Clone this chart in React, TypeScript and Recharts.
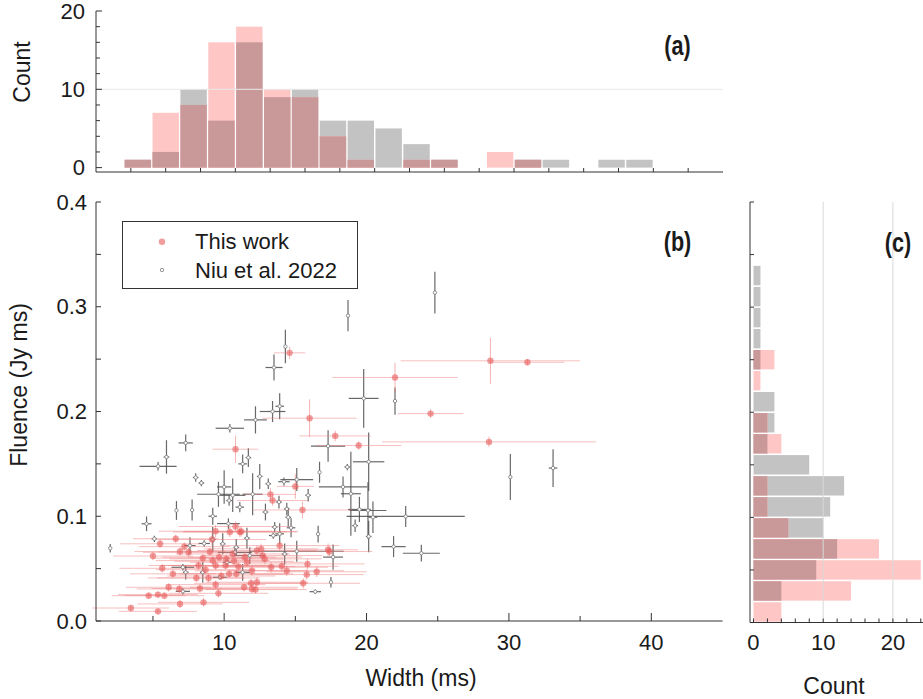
import React from 'react'
import {
  ComposedChart,
  Bar,
  Scatter,
  XAxis,
  YAxis,
  ErrorBar,
  ReferenceLine,
} from 'recharts'

const FONT = '"Liberation Sans", Arial, sans-serif'
const INK = '#1a1a1a'
const FRAME_DARK = '#333333'
const FRAME_LIGHT = '#8a8a8a'
const PINK = '#FFC6C6'
const GREY = '#C3C3C3'
const OVERLAP = '#C99999'
const DOT_RED = '#E85C5C'

// (a) width histogram, 2 ms bins (bin centre)
const widthBins = [3, 5, 7, 9, 11, 13, 15, 17, 19, 21, 23, 25, 27, 29, 31, 33, 35, 37, 39]
const widthThisWork = [1, 7, 8, 16, 18, 10, 9, 4, 1, 0, 1, 1, 0, 2, 1, 0, 0, 0, 0]
const widthNiu = [1, 2, 10, 6, 16, 9, 10, 6, 6, 5, 3, 1, 0, 0, 1, 1, 0, 1, 1]

// (c) fluence histogram, 0.02 Jy ms bins (bin centre)
const fluenceBins = [0.01, 0.03, 0.05, 0.07, 0.09, 0.11, 0.13, 0.15, 0.17, 0.19, 0.21, 0.23, 0.25, 0.27, 0.29, 0.31, 0.33]
const fluenceThisWork = [4, 14, 24, 18, 5, 2, 2, 0, 4, 2, 0, 1, 3, 0, 0, 0, 0]
const fluenceNiu = [0, 4, 9, 12, 10, 11, 13, 8, 2, 3, 3, 0, 1, 1, 1, 1, 1]

// ticks
const aXTicks = [2.5, 5, 7.5, 10, 12.5, 15, 17.5, 20, 22.5, 25, 27.5, 30, 32.5, 35, 37.5, 40, 42.5]
const aYTicks = [0, 2, 4, 6, 8, 10, 12, 14, 16, 18, 20]
const aYLabels = [0, 10, 20]
const bXTicks = [5, 10, 15, 20, 25, 30, 35, 40]
const bXLabels = [10, 20, 30, 40]
const bYTicks = [0, 0.05, 0.1, 0.15, 0.2, 0.25, 0.3, 0.35, 0.4]
const bYLabels = [0, 0.1, 0.2, 0.3, 0.4]
const cXTicks = [0, 2, 4, 6, 8, 10, 12, 14, 16, 18, 20, 22, 24]
const cXLabels = [0, 10, 20]
const cGrid = [10, 20]

// (b) [width ms, fluence Jy ms, width err, fluence err]
const thisWork = [
  [14.6, 0.256, 1.1, 0.006], [22.0, 0.2325, 4.4, 0.014], [24.5, 0.198, 2.3, 0.004],
  [16.0, 0.1936, 3.3, 0.018], [17.8, 0.1767, 2.5, 0.005], [28.7, 0.2484, 6.3, 0.022],
  [31.3, 0.247, 2.6, 0.003], [28.6, 0.171, 7.5, 0.005], [19.45, 0.1675, 3.0, 0.004],
  [10.8, 0.164, 1.6, 0.013], [15.5, 0.106, 3.5, 0.008], [17.3, 0.068, 2.1, 0.006],
  [13.25, 0.1209, 1.8, 0.006], [13.4, 0.115, 2.5, 0.005], [15.0, 0.1285, 1.3, 0.012],
  [6.6, 0.0785, 3.0, 0.004], [5.5, 0.0737, 2.8, 0.004], [9.4, 0.0857, 4.0, 0.006],
  [10.8, 0.0902, 4.0, 0.005], [11.2, 0.0855, 4.0, 0.005], [9.15, 0.0778, 3.8, 0.006],
  [6.9, 0.0663, 3.2, 0.004], [7.5, 0.0656, 3.2, 0.004], [8.2, 0.053, 3.5, 0.004],
  [8.5, 0.06, 3.5, 0.004], [9.2, 0.0577, 4.0, 0.004], [9.65, 0.0609, 4.0, 0.004],
  [10.15, 0.0593, 4.0, 0.004], [10.7, 0.057, 4.2, 0.004], [10.1, 0.053, 4.0, 0.004],
  [9.4, 0.053, 3.8, 0.004], [5.65, 0.0503, 3.0, 0.004], [8.05, 0.0411, 3.4, 0.004],
  [8.9, 0.0411, 3.6, 0.004], [9.4, 0.0347, 3.5, 0.004], [9.6, 0.0264, 3.5, 0.004],
  [10.35, 0.045, 4.0, 0.004], [10.85, 0.045, 4.0, 0.004], [11.4, 0.0322, 3.8, 0.004],
  [11.9, 0.036, 4.0, 0.004], [12.2, 0.03, 3.6, 0.004], [6.1, 0.0322, 3.0, 0.004],
  [6.85, 0.0306, 3.0, 0.004], [6.9, 0.0163, 3.0, 0.004], [8.55, 0.0178, 3.2, 0.004],
  [4.7, 0.0242, 2.6, 0.003], [5.35, 0.0252, 2.8, 0.003], [5.8, 0.0242, 2.8, 0.003],
  [3.45, 0.0124, 2.7, 0.003], [5.35, 0.0092, 2.75, 0.003], [12.3, 0.0673, 4.2, 0.005],
  [12.7, 0.0625, 4.2, 0.005], [11.45, 0.0609, 4.0, 0.005], [11.95, 0.048, 4.0, 0.005],
  [12.3, 0.037, 3.6, 0.005], [13.9, 0.072, 4.2, 0.005], [12.6, 0.0689, 4.0, 0.005],
  [12.85, 0.0593, 4.0, 0.005], [13.3, 0.0513, 4.0, 0.005], [14.05, 0.0522, 4.0, 0.005],
  [14.4, 0.048, 4.0, 0.005], [15.8, 0.0443, 4.0, 0.005], [15.85, 0.0545, 4.0, 0.005],
  [15.55, 0.036, 4.0, 0.005], [17.4, 0.0663, 3.0, 0.005], [11.95, 0.0306, 3.2, 0.004],
  [10.4, 0.085, 4.0, 0.005], [11.1, 0.085, 4.0, 0.005], [5.0, 0.062, 2.8, 0.004],
  [6.4, 0.045, 3.0, 0.004], [7.2, 0.071, 3.2, 0.004], [8.7, 0.049, 3.5, 0.004],
  [9.0, 0.066, 3.6, 0.004], [9.8, 0.043, 3.8, 0.004], [8.3, 0.031, 3.4, 0.004],
  [10.6, 0.064, 4.0, 0.004], [11.0, 0.052, 4.0, 0.004], [11.6, 0.056, 4.0, 0.004],
  [16.5, 0.047, 3.5, 0.005],
]

const niu2022 = [
  [24.8, 0.3135, 0.1, 0.02], [18.7, 0.2915, 0.1, 0.015], [14.3, 0.262, 0.1, 0.016],
  [13.5, 0.242, 0.6, 0.0125], [13.9, 0.205, 0.3, 0.0125], [13.4, 0.2, 0.9, 0.01],
  [12.2, 0.192, 0.8, 0.013], [10.4, 0.184, 1.0, 0.004], [19.8, 0.2125, 1.05, 0.028],
  [22.0, 0.21, 0.1, 0.013], [17.3, 0.167, 1.2, 0.015], [20.15, 0.152, 1.1, 0.028],
  [18.65, 0.147, 0.2, 0.003], [16.7, 0.142, 0.1, 0.01], [30.1, 0.1374, 0.1, 0.022],
  [33.1, 0.146, 0.3, 0.018], [18.35, 0.128, 1.7, 0.01], [18.9, 0.1215, 0.7, 0.04],
  [19.5, 0.1065, 0.8, 0.012], [20.45, 0.099, 0.3, 0.015], [22.75, 0.0998, 4.15, 0.01],
  [20.15, 0.0807, 0.2, 0.015], [16.6, 0.083, 0.1, 0.008], [21.9, 0.071, 0.85, 0.01],
  [23.85, 0.0647, 1.3, 0.008], [17.65, 0.061, 0.7, 0.012], [7.3, 0.17, 0.5, 0.008],
  [5.36, 0.1477, 1.3, 0.004], [5.95, 0.1566, 0.2, 0.016], [11.7, 0.156, 0.2, 0.009],
  [11.3, 0.15, 0.3, 0.009], [8.4, 0.1317, 0.2, 0.003], [9.6, 0.121, 1.5, 0.012],
  [10.0, 0.128, 0.5, 0.016], [10.6, 0.12, 0.9, 0.016], [10.35, 0.115, 0.2, 0.005],
  [12.0, 0.121, 0.7, 0.02], [13.1, 0.131, 0.2, 0.005], [14.2, 0.133, 0.4, 0.004],
  [15.1, 0.135, 1.15, 0.011], [13.85, 0.1135, 0.2, 0.006], [14.5, 0.099, 0.2, 0.009],
  [13.55, 0.0896, 0.2, 0.005], [13.9, 0.0832, 0.3, 0.01], [13.45, 0.0816, 0.3, 0.003],
  [20.1, 0.1055, 1.3, 0.027], [17.5, 0.037, 0.1, 0.005], [16.4, 0.028, 0.4, 0.002],
  [15.1, 0.0666, 3.3, 0.01], [6.65, 0.1055, 0.1, 0.009], [7.75, 0.106, 0.1, 0.01],
  [4.55, 0.0928, 0.35, 0.007], [5.1, 0.0785, 0.2, 0.003], [2.0, 0.0695, 0.1, 0.004],
  [7.6, 0.072, 0.4, 0.008], [8.6, 0.074, 0.4, 0.003], [9.2, 0.0778, 0.2, 0.012],
  [9.9, 0.0737, 0.2, 0.01], [7.1, 0.0513, 0.8, 0.003], [7.3, 0.0465, 0.2, 0.007],
  [8.5, 0.0465, 0.2, 0.01], [9.7, 0.0417, 0.5, 0.002], [7.1, 0.0283, 0.5, 0.003],
  [11.3, 0.0465, 0.5, 0.008], [11.8, 0.0625, 1.1, 0.008], [14.25, 0.064, 0.2, 0.01],
  [10.75, 0.0656, 1.2, 0.004], [10.2, 0.056, 0.3, 0.004], [10.85, 0.0704, 0.2, 0.008],
  [11.1, 0.1087, 0.3, 0.005], [14.4, 0.107, 0.2, 0.006], [10.3, 0.093, 0.8, 0.005],
  [12.5, 0.138, 0.2, 0.012], [9.2, 0.1, 0.3, 0.008], [15.9, 0.12, 0.2, 0.006],
  [12.9, 0.104, 0.2, 0.008], [14.7, 0.089, 0.3, 0.009], [8.0, 0.137, 0.2, 0.004],
  [19.2, 0.091, 0.2, 0.006], [11.6, 0.079, 0.2, 0.01],
]

const toPoints = (rows: number[][]) =>
  rows.map(([w, f, we, fe]) => ({ w, f, we, fe }))

/* "both" is the shared part of the two histograms, drawn in the dusky overlap colour */
const histRows = (centres: number[], tw: number[], niu: number[]) =>
  centres.map((c, i) => ({ c, tw: tw[i], niu: niu[i], both: Math.min(tw[i], niu[i]) }))

type Side = 'top' | 'bottom' | 'left' | 'right'
interface TickOpts {
  labels?: number[]
  major?: number[]
  majorLen?: number
  minorLen?: number
  gap?: number
  fmt?: (v: number) => string
  color?: string
}

const has = (arr: number[] | undefined, v: number) =>
  !!arr && arr.some((a) => Math.abs(a - v) < 1e-6)

/* tickSize/tickMargin are 0, so (x, y) is on the axis line; the mark points inward */
function inwardTick(side: Side, o: TickOpts = {}) {
  return function TickMark(props: { x: number; y: number; payload: { value: number } }) {
    const { x, y, payload } = props
    const v = payload.value
    const len = has(o.major, v) ? o.majorLen ?? 8 : o.minorLen ?? 4
    const gap = o.gap ?? 10
    let x2 = x
    let y2 = y
    let tx = x
    let ty = y
    let anchor: 'middle' | 'end' | 'start' = 'middle'
    if (side === 'bottom') {
      y2 = y - len
      ty = y + gap
    } else if (side === 'top') {
      y2 = y + len
    } else if (side === 'left') {
      x2 = x + len
      tx = x - gap
      anchor = 'end'
    } else {
      x2 = x - len
    }
    return (
      <g>
        <line x1={x} y1={y} x2={x2} y2={y2} stroke={o.color ?? FRAME_DARK} strokeWidth={1} />
        {has(o.labels, v) && (
          <text
            x={tx}
            y={ty}
            textAnchor={anchor}
            dominantBaseline='central'
            fontSize={22}
            fontFamily={FONT}
            fill={INK}>
            {o.fmt ? o.fmt(v) : String(v)}
          </text>
        )}
      </g>
    )
  }
}

const axisBase = {
  type: 'number' as const,
  tickSize: 0,
  tickMargin: 0,
  tickLine: false,
  interval: 0 as const,
  allowDataOverflow: true,
}

/* histogram block with a thin white gap between neighbouring bins */
function histRect(fill: string, horizontal: boolean) {
  return function HistRect(p: { x?: number; y?: number; width?: number; height?: number }) {
    const x = p.x ?? 0
    const y = p.y ?? 0
    const w = p.width ?? 0
    const h = p.height ?? 0
    if (!w || !h) return <g />
    const inset = 0.8
    const rx = Math.min(x, x + w)
    const ry = Math.min(y, y + h)
    const rw = Math.abs(w)
    const rh = Math.abs(h)
    return (
      <rect
        x={horizontal ? rx : rx + inset}
        y={horizontal ? ry + inset : ry}
        width={horizontal ? rw : Math.max(0, rw - 2 * inset)}
        height={horizontal ? Math.max(0, rh - 2 * inset) : rh}
        fill={fill}
      />
    )
  }
}

function RedDot(p: { cx?: number; cy?: number }) {
  return <circle cx={p.cx} cy={p.cy} r={3.2} fill={DOT_RED} fillOpacity={0.6} />
}

function GreyRing(p: { cx?: number; cy?: number }) {
  return <circle cx={p.cx} cy={p.cy} r={1.7} fill='#fff' stroke='#7a7a7a' strokeWidth={0.8} />
}

function WidthHistogram() {
  const rows = histRows(widthBins, widthThisWork, widthNiu)
  return (
    <ComposedChart width={740} height={190} data={rows} barCategoryGap={0} barGap={0}
      margin={{ top: 11, right: 17, bottom: 0, left: 0 }}>
      <XAxis {...axisBase} dataKey='c' domain={[0, 45]} ticks={aXTicks} height={18}
        axisLine={{ stroke: FRAME_DARK }} tick={inwardTick('bottom', { minorLen: 4 })} />
      <XAxis {...axisBase} xAxisId='t' dataKey='c' orientation='top' domain={[0, 45]} ticks={aXTicks} height={0}
        axisLine={{ stroke: FRAME_DARK }} tick={inwardTick('top', { minorLen: 4 })} />
      <XAxis {...axisBase} xAxisId='o' dataKey='c' domain={[0, 45]} hide />
      <YAxis {...axisBase} domain={[-0.56, 20]} ticks={aYTicks} width={96}
        axisLine={{ stroke: FRAME_DARK }}
        tick={inwardTick('left', { labels: aYLabels, major: aYLabels, majorLen: 6, minorLen: 4, gap: 11 })} />
      <YAxis {...axisBase} yAxisId='r' orientation='right' domain={[-0.56, 20]} ticks={aYTicks} width={0}
        axisLine={{ stroke: FRAME_DARK }} tick={false} />
      <YAxis {...axisBase} yAxisId='o' domain={[-0.56, 20]} hide />
      <ReferenceLine y={10} stroke='#e9e9e9' strokeWidth={1} />
      <Bar dataKey='niu' fill={GREY} shape={histRect(GREY, false)} isAnimationActive={false} />
      <Bar dataKey='tw' xAxisId='t' yAxisId='r' fill={PINK} shape={histRect(PINK, false)} isAnimationActive={false} />
      <Bar dataKey='both' xAxisId='o' yAxisId='o' fill={OVERLAP} shape={histRect(OVERLAP, false)} isAnimationActive={false} />
    </ComposedChart>
  )
}

function FluenceScatter() {
  const thisData = toPoints(thisWork)
  const niuData = toPoints(niu2022)
  return (
    <ComposedChart width={740} height={519} margin={{ top: 22, right: 17.5, bottom: 0, left: 0 }}>
      <XAxis {...axisBase} dataKey='w' domain={[1, 45]} ticks={bXTicks} height={78}
        axisLine={{ stroke: FRAME_DARK }}
        tick={inwardTick('bottom', { labels: bXLabels, major: bXLabels, majorLen: 8, minorLen: 5, gap: 21 })} />
      <XAxis {...axisBase} xAxisId='t' dataKey='w' orientation='top' domain={[1, 45]} ticks={bXTicks} height={0}
        axisLine={{ stroke: FRAME_LIGHT }}
        tick={inwardTick('top', { major: bXLabels, majorLen: 8, minorLen: 6, color: FRAME_LIGHT })} />
      <YAxis {...axisBase} dataKey='f' domain={[0, 0.4]} ticks={bYTicks} width={96}
        axisLine={{ stroke: FRAME_DARK }}
        tick={inwardTick('left', { labels: bYLabels, minorLen: 5, gap: 9, fmt: (v) => v.toFixed(1) })} />
      <YAxis {...axisBase} yAxisId='r' dataKey='f' orientation='right' domain={[0, 0.4]} ticks={bYTicks} width={0}
        axisLine={{ stroke: FRAME_LIGHT }}
        tick={inwardTick('right', { minorLen: 6, color: FRAME_LIGHT })} />
      <Scatter name='Niu et al. 2022' data={niuData} shape={GreyRing} isAnimationActive={false}>
        <ErrorBar dataKey='we' direction='x' width={0} stroke='#4d4d4d' strokeWidth={1.2} strokeOpacity={0.85} isAnimationActive={false} />
        <ErrorBar dataKey='fe' direction='y' width={0} stroke='#4d4d4d' strokeWidth={1.2} strokeOpacity={0.85} isAnimationActive={false} />
      </Scatter>
      <Scatter name='This work' data={thisData} xAxisId='t' yAxisId='r' shape={RedDot} isAnimationActive={false}>
        <ErrorBar dataKey='we' direction='x' width={0} stroke='#F08080' strokeWidth={1} strokeOpacity={0.5} isAnimationActive={false} />
        <ErrorBar dataKey='fe' direction='y' width={0} stroke='#F08080' strokeWidth={1} strokeOpacity={0.6} isAnimationActive={false} />
      </Scatter>
    </ComposedChart>
  )
}

function FluenceHistogram() {
  const rows = histRows(fluenceBins, fluenceThisWork, fluenceNiu)
  return (
    <ComposedChart width={260} height={519} layout='vertical' data={rows} barCategoryGap={0} barGap={0}
      margin={{ top: 22, right: 32.25, bottom: 0, left: 0 }}>
      <XAxis {...axisBase} domain={[-0.5, 25]} ticks={cXTicks} height={76.5}
        axisLine={{ stroke: FRAME_DARK }}
        tick={inwardTick('bottom', { labels: cXLabels, minorLen: 4, gap: 20 })} />
      <XAxis {...axisBase} xAxisId='t' orientation='top' domain={[-0.5, 25]} ticks={cXTicks} height={0}
        axisLine={{ stroke: FRAME_DARK }} tick={inwardTick('top', { minorLen: 4 })} />
      <XAxis {...axisBase} xAxisId='o' domain={[-0.5, 25]} hide />
      <YAxis {...axisBase} dataKey='c' reversed domain={[0, 0.4]} ticks={bYTicks} width={50}
        axisLine={{ stroke: FRAME_DARK }} tick={inwardTick('left', { minorLen: 4 })} />
      <YAxis {...axisBase} yAxisId='r' dataKey='c' reversed orientation='right' domain={[0, 0.4]} ticks={bYTicks} width={0}
        axisLine={{ stroke: FRAME_DARK }} tick={inwardTick('right', { minorLen: 6 })} />
      <YAxis {...axisBase} yAxisId='o' dataKey='c' reversed domain={[0, 0.4]} hide />
      {cGrid.map((g) => (
        <ReferenceLine key={g} x={g} stroke='#d9d9d9' strokeWidth={1} />
      ))}
      <Bar dataKey='niu' fill={GREY} shape={histRect(GREY, true)} isAnimationActive={false} />
      <Bar dataKey='tw' xAxisId='t' yAxisId='r' fill={PINK} shape={histRect(PINK, true)} isAnimationActive={false} />
      <Bar dataKey='both' xAxisId='o' yAxisId='o' fill={OVERLAP} shape={histRect(OVERLAP, true)} isAnimationActive={false} />
    </ComposedChart>
  )
}

function Titles() {
  const title = { fontFamily: FONT, fontSize: 23, fill: INK, textAnchor: 'middle' as const, dominantBaseline: 'central' as const }
  const tag = { fontFamily: FONT, fontSize: 27, fontWeight: 700, fill: INK, textAnchor: 'middle' as const, dominantBaseline: 'central' as const }
  return (
    <svg width={923} height={699} style={{ position: 'absolute', left: 0, top: 0, pointerEvents: 'none' }}>
      <text {...title} x={22} y={72} transform='rotate(-90 22 72)'>Count</text>
      <text {...title} x={19} y={385} transform='rotate(-90 19 385)'>Fluence (Jy ms)</text>
      <text {...title} x={421} y={678}>Width (ms)</text>
      <text {...title} x={834} y={686}>Count</text>
      <text {...tag} transform='translate(677.5 45.5) scale(0.8 1)'>(a)</text>
      <text {...tag} transform='translate(677.5 242) scale(0.8 1)'>(b)</text>
      <text {...tag} transform='translate(898 242.5) scale(0.8 1)'>(c)</text>

      {/* legend */}
      <rect x={122.5} y={221.5} width={235} height={67} fill='#fff' stroke={FRAME_DARK} strokeWidth={1} />
      <circle cx={162} cy={241.7} r={3.2} fill={DOT_RED} fillOpacity={0.6} />
      <circle cx={162} cy={270} r={1.7} fill='#fff' stroke='#7a7a7a' strokeWidth={0.8} />
      <text x={195} y={241.7} fontFamily={FONT} fontSize={22} fill={INK} dominantBaseline='central'>This work</text>
      <text x={195} y={270} fontFamily={FONT} fontSize={22} fill={INK} dominantBaseline='central'>Niu et al. 2022</text>
    </svg>
  )
}

export default function App() {
  return (
    <div style={{ position: 'absolute', left: 0, top: 0, width: 923, height: 699, overflow: 'hidden', background: '#fff' }}>
      <div style={{ position: 'absolute', left: 0, top: 0 }}>
        <WidthHistogram />
      </div>
      <div style={{ position: 'absolute', left: 0, top: 180 }}>
        <FluenceScatter />
      </div>
      <div style={{ position: 'absolute', left: 700, top: 180 }}>
        <FluenceHistogram />
      </div>
      <Titles />
    </div>
  )
}
